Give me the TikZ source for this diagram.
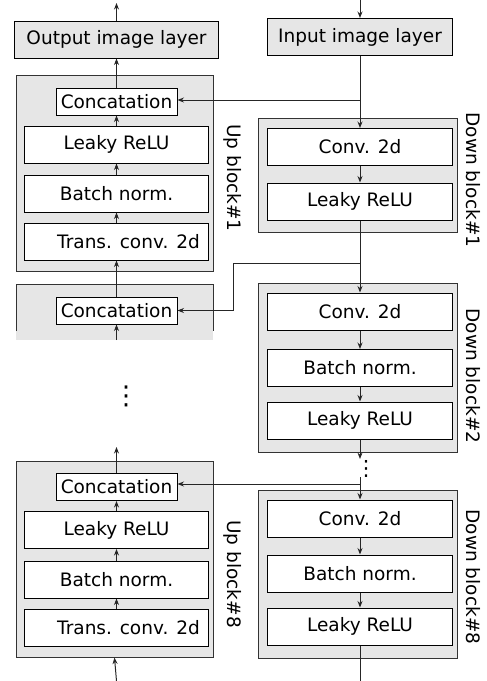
\documentclass[tikz,border=0pt]{standalone}
\usepackage{fontspec}
\setmainfont{DejaVu Sans}
\usetikzlibrary{arrows.meta}
\definecolor{boxgray}{HTML}{E6E6E6}
\definecolor{edgegray}{HTML}{333333}
\begin{document}
\begin{tikzpicture}[x=1pt,y=-1pt,
  every node/.style={font=\fontsize{18.5}{22}\selectfont, inner sep=0pt},
  outerbox/.style={draw=edgegray, fill=boxgray, line width=1pt},
  layerbox/.style={draw=black, fill=boxgray, line width=1pt, minimum height=37pt},
  innerbox/.style={draw=black, fill=white, line width=1pt, minimum height=37pt},
  catbox/.style={draw=black, fill=white, line width=1pt, minimum height=27pt, minimum width=121pt},
  conn/.style={draw=black!85, line width=1pt, -{Stealth[length=6.5pt,width=5pt]}},
  plain/.style={draw=black!85, line width=1pt},
  blocklabel/.style={rotate=-90}
]
\useasboundingbox (0,0) rectangle (487,681);

% ---------------- right column (down path) ----------------
\node[layerbox, minimum width=185pt] (inp) at (360,37) {Input image layer};

\node[outerbox, minimum width=199pt, minimum height=114pt] (d1) at (358,175) {};
\node[innerbox, minimum width=185pt] (d1c) at (360,147) {Conv. 2d};
\node[innerbox, minimum width=185pt] (d1l) at (360,201.5) {Leaky ReLU};
\node[blocklabel] (d1lab) at (473,180) {Down block\#1};

\node[outerbox, minimum width=199pt, minimum height=169pt] (d2) at (358,367.5) {};
\node[innerbox, minimum width=185pt] (d2c) at (360,311.5) {Conv. 2d};
\node[innerbox, minimum width=185pt] (d2b) at (360,368) {Batch norm.};
\node[innerbox, minimum width=185pt] (d2l) at (360,420.5) {Leaky ReLU};
\node[blocklabel] (d2lab) at (473,376) {Down block\#2};

\node (rdots) at (366,469) {\fontsize{21}{24}\selectfont ⋮};

\node[outerbox, minimum width=199pt, minimum height=168pt] (d8) at (358,574) {};
\node[innerbox, minimum width=185pt] (d8c) at (360,518.5) {Conv. 2d};
\node[innerbox, minimum width=185pt] (d8b) at (360,573.5) {Batch norm.};
\node[innerbox, minimum width=185pt] (d8l) at (360,626.5) {Leaky ReLU};
\node[blocklabel] (d8lab) at (473,577) {Down block\#8};

% ---------------- left column (up path) ----------------
\node[layerbox, minimum width=204pt] (outp) at (116.5,39.5) {Output image layer};

\node[outerbox, minimum width=197pt, minimum height=196pt] (u1) at (114.5,173) {};
\node[catbox] (u1cat) at (116.5,101.5) {Concatation};
\node[innerbox, minimum width=184pt] (u1l) at (116.5,144.5) {Leaky ReLU};
\node[innerbox, minimum width=184pt] (u1b) at (116.5,193.5) {Batch norm.};
\node[innerbox, minimum width=184pt] (u1t) at (116.5,241.5) {\hspace*{24pt}Trans. conv. 2d};
\node[blocklabel] (u1lab) at (233,178) {Up block\#1};

% partial (cut) up block #2
\fill[boxgray] (16,284) rectangle (213,340);
\draw[edgegray, line width=1pt] (16,331) -- (16,284) -- (213,284) -- (213,331);
\node[catbox] (u2cat) at (116.5,310.5) {Concatation};

\node (ldots) at (126,396) {\fontsize{26}{30}\selectfont ⋮};

\node[outerbox, minimum width=197pt, minimum height=196pt] (u8) at (114.5,559) {};
\node[catbox] (u8cat) at (116.5,487) {Concatation};
\node[innerbox, minimum width=184pt] (u8l) at (116.5,530) {Leaky ReLU};
\node[innerbox, minimum width=184pt] (u8b) at (116.5,579.5) {Batch norm.};
\node[innerbox, minimum width=184pt] (u8t) at (116.5,628) {\hspace*{24pt}Trans. conv. 2d};
\node[blocklabel] (u8lab) at (233,574) {Up block\#8};

% ---------------- coordinates ----------------
\coordinate (intop) at (360,0);
\coordinate (b1) at (360,100);
\coordinate (b2) at (360,263);
\coordinate (k2) at (233,263);
\coordinate (dend) at (360,459);
\coordinate (dstart) at (360,477);
\coordinate (b8) at (360,484);
\coordinate (dbot) at (360,681);
\coordinate (outtop) at (116.5,3);
\coordinate (u2in) at (116.5,340);
\coordinate (u8out) at (116.5,447);
\coordinate (u8in) at (116.5,681);

% ---------------- connectors: down path ----------------
\draw[conn] (intop) -- (inp.north);
\draw[conn] (inp.south) -- (d1c.north);
\draw[conn] (d1c.south) -- (d1l.north);
\draw[conn] (d1l.south) -- (d2c.north);
\draw[conn] (d2c.south) -- (d2b.north);
\draw[conn] (d2b.south) -- (d2l.north);
\draw[conn] (d2l.south) -- (dend);
\draw[conn] (dstart) -- (d8c.north);
\draw[conn] (d8c.south) -- (d8b.north);
\draw[conn] (d8b.south) -- (d8l.north);
\draw[plain] (d8l.south) -- (dbot);

% ---------------- skip connections ----------------
\draw[conn] (b1) -- (b1 -| u1cat.east);
\draw[conn] (b2) -- (k2) |- (u2cat.east);
\draw[conn] (b8) -- (b8 -| u8cat.east);

% ---------------- connectors: up path ----------------
\draw[conn] (outp.north) -- (outtop);
\draw[conn] (u1cat.north) -- (outp.south);
\draw[conn] (u1l.north) -- (u1cat.south);
\draw[conn] (u1b.north) -- (u1l.south);
\draw[conn] (u1t.north) -- (u1b.south);
\draw[conn] (u2cat.north) -- (u1t.south);
\draw[conn] (u2in) -- (u2cat.south);
\draw[conn] (u8cat.north) -- (u8out);
\draw[conn] (u8l.north) -- (u8cat.south);
\draw[conn] (u8b.north) -- (u8l.south);
\draw[conn] (u8t.north) -- (u8b.south);
\draw[conn] (u8in) -- (u8.south);
\end{tikzpicture}
\end{document}
